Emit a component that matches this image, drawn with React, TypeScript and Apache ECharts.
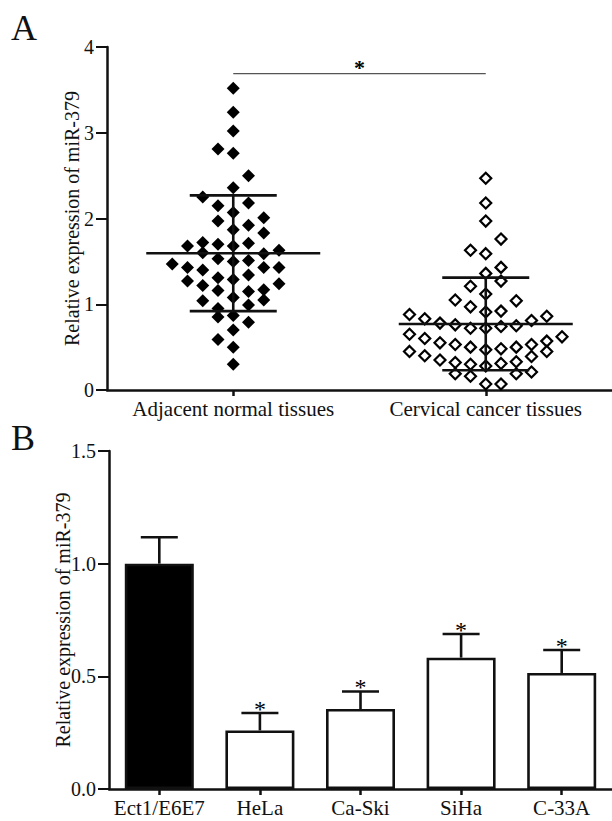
import React, { useEffect, useRef } from "react";
import * as echarts from "echarts";

// ---------- Panel A data ----------
const groupNames = ["Adjacent normal tissues", "Cervical cancer tissues"];
const adjacentValues = [
  3.52, 3.24, 3.02, 2.81, 2.76, 2.5, 2.36, 2.25, 2.15, 2.18, 2.07, 2.01, 1.97, 1.92, 1.87, 1.83,
  1.68, 1.72, 1.7, 1.68, 1.71, 1.63, 1.6, 1.59, 1.47, 1.43, 1.53, 1.5, 1.51, 1.43, 1.43, 1.4,
  1.27, 1.22, 1.31, 1.29, 1.34, 1.24, 1.16, 1.08, 1.15, 1.17, 1.04, 0.99, 1.05, 0.95, 0.87, 0.85,
  0.79, 0.7, 0.59, 0.5, 0.3,
];
const adjacentSlots = [
  0, 0, 0, -1, 0, 1, 0, -2, -1, 1, 0, 2, -1, 1, 0, 2,
  -3, -2, -1, 0, 1, 3, -2, 2, -4, -3, -1, 0, 1, 2, 3, -2,
  -3, -2, -1, 0, 1, 3, -1, 0, 1, 2, -2, 1, 2, -1, 0, -1,
  1, 0, -1, 0, 0,
];
const cervicalValues = [
  2.47, 2.18, 1.97, 1.76, 1.63, 1.59, 1.43, 1.36, 1.21, 1.27, 1.12, 1.05, 1.04, 0.97, 0.91, 0.92,
  0.88, 0.83, 0.78, 0.76, 0.72, 0.72, 0.74, 0.75, 0.81, 0.86,
  0.65, 0.6, 0.55, 0.53, 0.5, 0.47, 0.48, 0.5, 0.53, 0.57, 0.62,
  0.45, 0.4, 0.35, 0.32, 0.3, 0.28, 0.31, 0.33, 0.39, 0.45,
  0.19, 0.16, 0.19, 0.21, 0.07, 0.07,
];
const cervicalSlots = [
  0, 0, 0, 1, -1, 0, 1, 0, -1, 1, 0, -2, 2, -1, 0, 1,
  -5, -4, -3, -2, -1, 0, 1, 2, 3, 4,
  -5, -4, -3, -2, -1, 0, 1, 2, 3, 4, 5,
  -5, -4, -3, -2, -1, 0, 1, 2, 3, 4,
  -2, -1, 2, 3, 0, 1,
];
const groupMeans = [1.595, 0.77];
const groupSDs = [0.675, 0.54];
const sigLevelA = 3.69;
const yTicksA = { min: 0, max: 4, interval: 1 };

// ---------- Panel B data ----------
const cellLines = ["Ect1/E6E7", "HeLa", "Ca-Ski", "SiHa", "C-33A"];
const cellValues = [1.0, 0.26, 0.355, 0.583, 0.515];
const cellErrors = [0.117, 0.077, 0.078, 0.105, 0.102];
const cellSignificant = [false, true, true, true, true];
const yTicksB = { min: 0, max: 1.5, interval: 0.5 };

const FONT = "Liberation Serif";
const INK = "#111";
const SLOT = 0.0604; // horizontal jitter step, in x units

export default function App() {
  const ref = useRef<HTMLDivElement>(null);

  useEffect(() => {
    if (!ref.current) return;
    const chart = echarts.init(ref.current, undefined, { renderer: "svg" });

    const adjacentData = adjacentValues.map((v, i) => [0.5 + adjacentSlots[i] * SLOT, v]);
    const cervicalData = cervicalValues.map((v, i) => [1.5 + cervicalSlots[i] * SLOT, v]);

    const axisLine = { show: true, lineStyle: { color: INK, width: 2.5 } };
    const txt = (size: number) => ({ color: INK, fontFamily: FONT, fontSize: size, fontWeight: "normal" });

    const option: any = {
      animation: false,
      backgroundColor: "#fff",
      textStyle: { fontFamily: FONT },
      graphic: [
        { type: "text", left: 11, top: 10, style: { text: "A", fontFamily: FONT, fontSize: 36, fill: INK } },
        { type: "text", left: 11, top: 420, style: { text: "B", fontFamily: FONT, fontSize: 36, fill: INK } },
      ],
      grid: [
        { left: 107, top: 47, width: 510, height: 343 },
        { left: 109, top: 451, width: 511, height: 338 },
      ],
      xAxis: [
        {
          type: "category",
          gridIndex: 0,
          data: groupNames,
          boundaryGap: true,
          axisLine,
          axisTick: { show: true, alignWithLabel: true, length: 6, lineStyle: { color: INK, width: 2.5 } },
          axisLabel: { ...txt(21), margin: 8, interval: 0 },
          splitLine: { show: false },
        },
        {
          type: "value",
          gridIndex: 0,
          min: 0,
          max: 2,
          show: false,
        },
        {
          type: "category",
          gridIndex: 1,
          data: cellLines,
          boundaryGap: true,
          axisLine,
          axisTick: { show: true, alignWithLabel: true, length: 6, lineStyle: { color: INK, width: 2.5 } },
          axisLabel: { ...txt(21), margin: 8, interval: 0 },
          splitLine: { show: false },
        },
      ],
      yAxis: [
        {
          type: "value",
          gridIndex: 0,
          min: yTicksA.min,
          max: yTicksA.max,
          interval: yTicksA.interval,
          name: "Relative expression of miR-379",
          nameLocation: "middle",
          nameRotate: 90,
          nameGap: 25,
          nameMoveOverlap: false,
          nameTextStyle: txt(20),
          axisLine,
          axisTick: { show: true, length: 11, lineStyle: { color: INK, width: 2 } },
          axisLabel: { ...txt(20), margin: 13 },
          splitLine: { show: false },
        },
        {
          type: "value",
          gridIndex: 1,
          min: yTicksB.min,
          max: yTicksB.max,
          interval: yTicksB.interval,
          name: "Relative expression of miR-379",
          nameLocation: "middle",
          nameRotate: 90,
          nameGap: 36,
          nameMoveOverlap: false,
          nameTextStyle: txt(20),
          axisLine,
          axisTick: { show: true, length: 11, lineStyle: { color: INK, width: 2 } },
          axisLabel: {
            ...txt(20),
            margin: 13,
            formatter: (v: number) => v.toFixed(1),
          },
          splitLine: { show: false },
        },
      ],
      series: [
        {
          type: "scatter",
          name: groupNames[0],
          xAxisIndex: 1,
          yAxisIndex: 0,
          data: adjacentData,
          symbol: "diamond",
          symbolSize: 13,
          itemStyle: { color: "#000", opacity: 1 },
          z: 2,
        },
        {
          type: "scatter",
          name: groupNames[1],
          xAxisIndex: 1,
          yAxisIndex: 0,
          data: cervicalData,
          symbol: "diamond",
          symbolSize: 11,
          itemStyle: { color: "#fff", borderColor: "#000", borderWidth: 2.2, opacity: 1 },
          z: 2,
        },
        {
          type: "custom",
          name: "mean ± SD",
          xAxisIndex: 1,
          yAxisIndex: 0,
          z: 5,
          data: groupMeans.map((m, i) => [i + 0.5, m, groupSDs[i]]),
          renderItem: (params: any, api: any) => {
            const x = api.value(0);
            const m = api.value(1);
            const sd = api.value(2);
            const c = api.coord([x, m]);
            const hi = api.coord([x, m + sd]);
            const lo = api.coord([x, m - sd]);
            const st = { stroke: INK, lineWidth: 2.6 };
            const mh = 87;
            const sh = 43.5;
            return {
              type: "group",
              children: [
                { type: "line", shape: { x1: c[0] - mh, y1: c[1], x2: c[0] + mh, y2: c[1] }, style: st },
                { type: "line", shape: { x1: c[0], y1: hi[1], x2: c[0], y2: lo[1] }, style: st },
                { type: "line", shape: { x1: c[0] - sh, y1: hi[1], x2: c[0] + sh, y2: hi[1] }, style: st },
                { type: "line", shape: { x1: c[0] - sh, y1: lo[1], x2: c[0] + sh, y2: lo[1] }, style: st },
              ],
            };
          },
        },
        {
          type: "custom",
          name: "significance",
          xAxisIndex: 1,
          yAxisIndex: 0,
          z: 5,
          data: [[0.5, 1.5, sigLevelA]],
          renderItem: (params: any, api: any) => {
            const a = api.coord([api.value(0), api.value(2)]);
            const b = api.coord([api.value(1), api.value(2)]);
            return {
              type: "group",
              children: [
                { type: "line", shape: { x1: a[0], y1: a[1], x2: b[0], y2: b[1] }, style: { stroke: "#555", lineWidth: 1.2 } },
                {
                  type: "text",
                  x: (a[0] + b[0]) / 2,
                  y: a[1] - 6,
                  style: { text: "*", fontFamily: FONT, fontSize: 22, fontWeight: "bold", fill: "#000", align: "center", verticalAlign: "middle" },
                },
              ],
            };
          },
        },
        {
          type: "bar",
          name: "miR-379",
          xAxisIndex: 2,
          yAxisIndex: 1,
          barWidth: 69,
          data: cellValues.map((v, i) => ({ value: v, itemStyle: { color: i === 0 ? "#000" : "#fff" } })),
          itemStyle: { borderColor: INK, borderWidth: 2.6 },
          z: 2,
        },
        {
          type: "custom",
          name: "error",
          xAxisIndex: 2,
          yAxisIndex: 1,
          z: 4,
          data: cellValues.map((v, i) => [i, v, cellErrors[i], cellSignificant[i] ? 1 : 0]),
          renderItem: (params: any, api: any) => {
            const i = api.value(0);
            const v = api.value(1);
            const e = api.value(2);
            const sig = api.value(3);
            const base = api.coord([i, v]);
            const top = api.coord([i, v + e]);
            const st = { stroke: INK, lineWidth: 2.6 };
            const ch: any[] = [
              { type: "line", shape: { x1: base[0], y1: base[1], x2: top[0], y2: top[1] }, style: st },
              { type: "line", shape: { x1: top[0] - 18.5, y1: top[1], x2: top[0] + 18.5, y2: top[1] }, style: st },
            ];
            if (sig) {
              ch.push({
                type: "text",
                x: top[0],
                y: top[1] - 4,
                style: { text: "*", fontFamily: FONT, fontSize: 24, fill: "#000", align: "center", verticalAlign: "middle" },
              });
            }
            return { type: "group", children: ch };
          },
        },
      ],
    };

    chart.setOption(option);
    return () => chart.dispose();
  }, []);

  return (
    <div
      ref={ref}
      style={{ position: "absolute", left: 0, top: 0, width: 612, height: 821, background: "#fff" }}
    />
  );
}
